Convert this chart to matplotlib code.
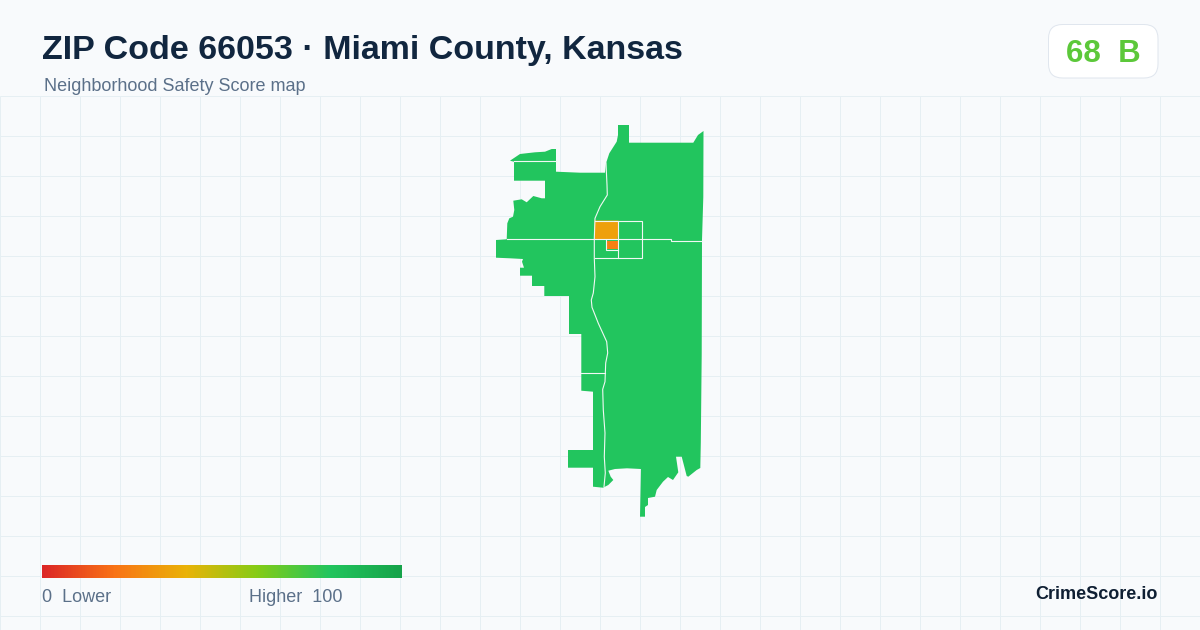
import matplotlib
matplotlib.use("Agg")
import matplotlib.pyplot as plt
import numpy as np
from matplotlib.colors import LinearSegmentedColormap
from matplotlib.patches import FancyBboxPatch

plt.rcParams["font.family"] = ["Liberation Sans", "DejaVu Sans"]

TITLE = "ZIP Code 66053 · Miami County, Kansas"
SUBTITLE = "Neighborhood Safety Score map"
SCORE_TEXT = "68  B"
BRAND = "CrimeScore.io"

# color ramp of the score legend
RAMP_STOPS = [0.0, 0.2, 0.4, 0.6, 0.8, 1.0]
RAMP_COLORS = ["#dc2626", "#f97316", "#eab308", "#84cc16", "#22c55e", "#16a34a"]

# scores per area
SCORE_MAIN = 80
SCORE_TOWN = 34
SCORE_CORE = 24

# map geometry in pixels
OUTLINE = [
    (618, 125), (629, 125), (629, 142.7), (693.3, 142.7), (698, 135), (703.5, 131),
    (703.3, 197), (702, 240), (701.7, 355), (700.8, 443), (700.3, 468), (696.7, 470),
    (688.3, 476.7), (686.7, 476), (681.7, 456.7), (676, 456.7), (678.3, 472.3), (673, 480),
    (668, 477), (663, 481.7), (656.7, 490), (655, 496.7), (648, 498), (648, 505),
    (645, 507), (645, 516.7), (640, 516.7), (641, 469), (627, 468.3), (615, 469),
    (608.3, 470.7), (610.7, 476.7), (613.3, 480), (608.3, 485), (603, 487.7), (593, 486.7),
    (593, 467.7), (568, 467.7), (568, 450), (593, 450), (593, 391.7), (581.3, 390.7),
    (581.3, 334), (569, 334), (569, 296), (544.3, 296), (544.3, 286), (532, 286),
    (532, 275.7), (520, 275.7), (520, 267.7), (524, 267.7), (522, 261.7), (523, 259),
    (510, 258.3), (496, 257.7), (496, 240), (506.7, 239.3), (507.3, 223.3), (509.3, 218.3),
    (513, 216.7), (514.3, 210), (513.3, 200.7), (521.7, 199.3), (526.7, 202.3), (533.3, 196),
    (541.7, 198.3), (545, 198.3), (545, 180.7), (514, 180.7), (514, 161.7), (510, 160.7),
    (520, 154), (535, 152.3), (545, 151.7), (551.7, 149), (556, 149), (556, 171.7),
    (580, 172.7), (605, 172.7), (606, 163.3), (609.3, 153.3), (616.7, 141.7), (618, 135),
]
TOWN = [(594.5, 220.5), (618.3, 220.5), (618.3, 232), (617.5, 239), (594.3, 239)]
CORE = [(605.7, 240.5), (617.7, 240.5), (617.7, 249.3), (605.7, 249.3)]

BOUNDARIES = [
    [(606, 163), (607, 185), (607.3, 195), (600, 206.7), (595, 218.3), (594.3, 238.3),
     (594.3, 258.3), (595, 276.7), (593.3, 293), (591.3, 300), (592, 307.3), (598.3, 323.3),
     (606.7, 341.7), (607.7, 353), (605.7, 363), (605, 381.7), (602.7, 389.3), (603.3, 410),
     (605, 433), (604.3, 456.7), (605.3, 473), (604, 486.7)],
    [(507, 239.3), (671, 239.3), (671, 240.5), (702, 240.5)],
    [(594.5, 220.5), (642.3, 220.5), (642.3, 258.3), (594.5, 258.3)],
    [(618.3, 220.5), (618.3, 258.3)],
    [(605.7, 240), (605.7, 249.5), (617.7, 249.5)],
    [(514, 161), (556, 161)],
    [(581.3, 373), (605, 373)],
]

GRID_X = np.arange(0, 1200, 40)
GRID_Y = np.arange(96, 630, 40)

ramp = LinearSegmentedColormap.from_list("score", list(zip(RAMP_STOPS, RAMP_COLORS)))

fig = plt.figure(figsize=(12, 6.3), dpi=100)
fig.patch.set_facecolor("#f8fafc")
ax = fig.add_axes([0, 0, 1, 1])
ax.set_facecolor("#f8fafc")
ax.axis("off")

# grid
for x in GRID_X:
    ax.plot([x, x], [96, 630], color="#e6eff3", lw=0.72, zorder=1, solid_capstyle="butt")
for y in GRID_Y:
    ax.plot([0, 1200], [y, y], color="#e6eff3", lw=0.72, zorder=1, solid_capstyle="butt")

# areas
ax.fill(*zip(*OUTLINE), color=ramp(SCORE_MAIN / 100), lw=0, zorder=2)
ax.fill(*zip(*TOWN), color=ramp(SCORE_TOWN / 100), lw=0, zorder=3)
ax.fill(*zip(*CORE), color=ramp(SCORE_CORE / 100), lw=0, zorder=3)
for line in BOUNDARIES:
    ax.plot(*zip(*line), color="#f1f8f4", lw=0.8, zorder=4, solid_joinstyle="miter")

# header
ax.text(42, 59, TITLE, fontsize=24.45, fontweight="bold", color="#11263f", va="baseline", ha="left")
ax.text(44, 91, SUBTITLE, fontsize=12.95, color="#5b7089", va="baseline", ha="left")

# badge
badge = FancyBboxPatch((1048.5 + 14, 24.5 + 14), 109.5 - 28, 53.5 - 28,
                       boxstyle="round,pad=14,rounding_size=14",
                       facecolor="white", edgecolor="#e0e6ee", lw=0.72, zorder=5)
ax.add_patch(badge)
ax.text(1103, 62, SCORE_TEXT, fontsize=22.5, fontweight="bold", color="#5cc83a",
        ha="center", va="baseline", zorder=6)

# legend
gradient = np.linspace(0, 1, 360).reshape(1, -1)
ax.imshow(gradient, cmap=ramp, extent=(42, 402, 578, 565), aspect="auto", zorder=5, vmin=0, vmax=1)
ax.text(42, 602.5, "0  Lower", fontsize=12.95, color="#5b7089", ha="left", va="baseline", zorder=6)
ax.text(249, 602.5, "Higher  100", fontsize=12.95, color="#5b7089", ha="left", va="baseline", zorder=6)
ax.text(1158, 599, BRAND, fontsize=13, fontweight="bold", color="#0f1f33", ha="right", va="baseline", zorder=6)

ax.set_xlim(0, 1200)
ax.set_ylim(630, 0)

fig.savefig("out.png", dpi=100, facecolor=fig.get_facecolor())
plt.close(fig)
